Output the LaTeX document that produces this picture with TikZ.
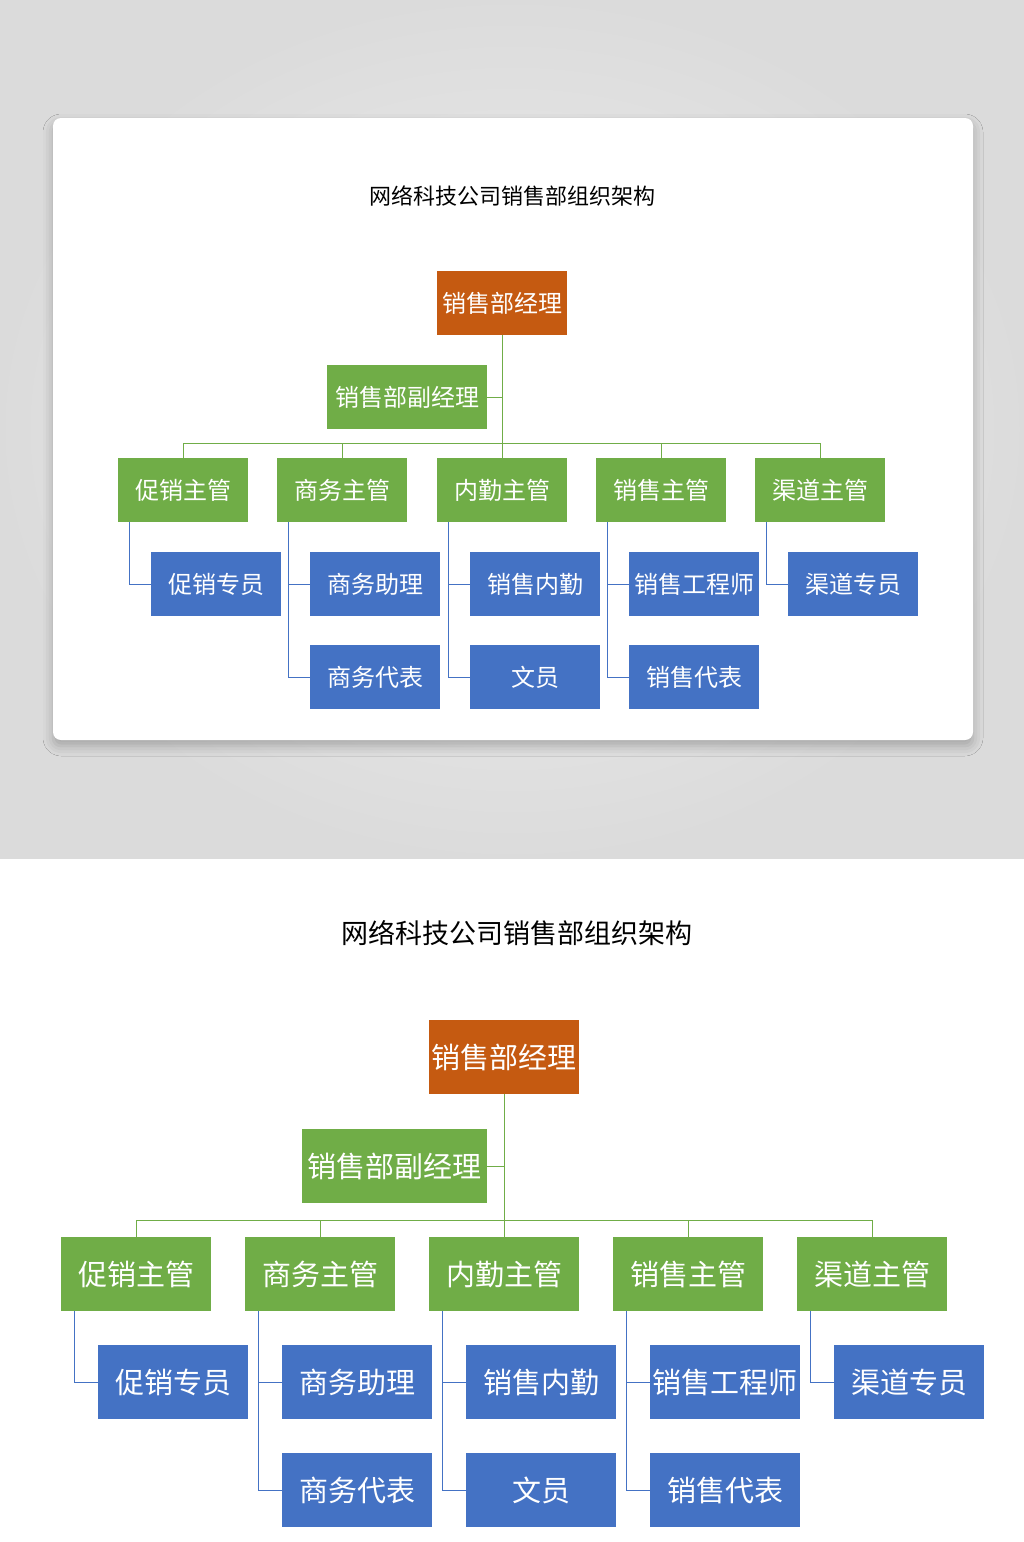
\documentclass[tikz,border=0pt]{standalone}
\usepackage{fontspec}
\setmainfont{Noto Sans CJK SC}
\usetikzlibrary{shadows.blur}
\definecolor{org}{HTML}{C55A11}
\definecolor{grn}{HTML}{70AD47}
\definecolor{blu}{HTML}{4472C4}
\begin{document}
\begin{tikzpicture}[x=1pt,y=-1pt,
  bx/.style={inner sep=0pt,text=white,anchor=center},
  gline/.style={draw=grn,line width=0.9pt},
  bline/.style={draw=blu,line width=0.9pt}]
\useasboundingbox (0,0) rectangle (1024,1542);
\fill[white] (0,0) rectangle (1024,1542);
\shade[inner color=gray!12,outer color=gray!28] (0,0) rectangle (1024,858);
\fill[white,rounded corners=8pt,blur shadow={shadow xshift=0pt,shadow yshift=-6pt,shadow blur radius=10pt,shadow opacity=25}] (53,118) rectangle (973,740);

% ---------- top chart ----------
\begin{scope}[every node/.append style={font=\fontsize{24}{24}\selectfont}]
\node (t1) at (512,196) {\fontsize{22}{22}\selectfont 网络科技公司销售部组织架构};
\node[bx,fill=org,minimum width=130,minimum height=64] (m1) at (502,303) {销售部经理};
\node[bx,fill=grn,minimum width=160,minimum height=64] (d1) at (407,397) {销售部副经理};
\coordinate (b1) at (502,443);
\draw[gline] (m1.south) -- (b1);
\draw[gline] (d1.east) -- (d1.east -| b1);
\foreach \i/\x/\t/\u in {1/183/促销主管/促销专员,2/342/商务主管/商务助理,3/502/内勤主管/销售内勤,4/661/销售主管/销售工程师,5/820/渠道主管/渠道专员}{
  \node[bx,fill=grn,minimum width=130,minimum height=64] (s1\i) at (\x,490) {\t};
  \node[bx,fill=blu,minimum width=130,minimum height=64] (a1\i) at ({\x+33},584) {\u};
  \draw[gline] (s1\i.north) -- (s1\i.north |- b1);
  \draw[bline] ([xshift=12pt]s1\i.south west) |- (a1\i.west);
}
\draw[gline] (s11.north |- b1) -- (s15.north |- b1);
\foreach \i/\x/\u in {2/342/商务代表,3/502/文员,4/661/销售代表}{
  \node[bx,fill=blu,minimum width=130,minimum height=64] (c1\i) at ({\x+33},677) {\u};
  \draw[bline] ([xshift=12pt]s1\i.south west) |- (c1\i.west);
}
\end{scope}

% ---------- bottom chart ----------
\begin{scope}[every node/.append style={font=\fontsize{29}{29}\selectfont}]
\node (t2) at (517,933) {\fontsize{27}{27}\selectfont 网络科技公司销售部组织架构};
\node[bx,fill=org,minimum width=150,minimum height=74] (m2) at (504,1057) {销售部经理};
\node[bx,fill=grn,minimum width=185,minimum height=74] (d2) at (394.5,1166) {销售部副经理};
\coordinate (b2) at (504,1220);
\draw[gline] (m2.south) -- (b2);
\draw[gline] (d2.east) -- (d2.east -| b2);
\foreach \i/\x/\t/\u in {1/136/促销主管/促销专员,2/320/商务主管/商务助理,3/504/内勤主管/销售内勤,4/688/销售主管/销售工程师,5/872/渠道主管/渠道专员}{
  \node[bx,fill=grn,minimum width=150,minimum height=74] (s2\i) at (\x,1274) {\t};
  \node[bx,fill=blu,minimum width=150,minimum height=74] (a2\i) at ({\x+37},1382) {\u};
  \draw[gline] (s2\i.north) -- (s2\i.north |- b2);
  \draw[bline] ([xshift=14pt]s2\i.south west) |- (a2\i.west);
}
\draw[gline] (s21.north |- b2) -- (s25.north |- b2);
\foreach \i/\x/\u in {2/320/商务代表,3/504/文员,4/688/销售代表}{
  \node[bx,fill=blu,minimum width=150,minimum height=74] (c2\i) at ({\x+37},1490) {\u};
  \draw[bline] ([xshift=14pt]s2\i.south west) |- (c2\i.west);
}
\end{scope}
\end{tikzpicture}
\end{document}
